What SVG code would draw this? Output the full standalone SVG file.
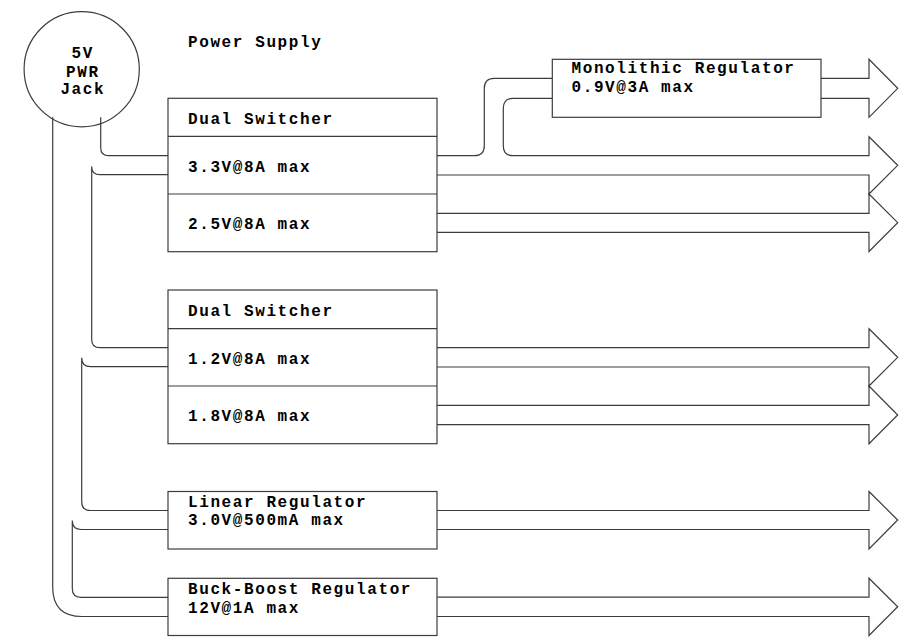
<svg xmlns="http://www.w3.org/2000/svg" width="915" height="644" viewBox="0 0 915 644">
<style>
  .ln { fill: none; stroke: #3c3c3c; stroke-width: 1.2; }
  .box { fill: #ffffff; stroke: #3c3c3c; stroke-width: 1.2; }
  .t { font-family: "Liberation Mono", "Courier New", monospace; font-weight: bold; font-size: 16px; letter-spacing: 1.6px; fill: #000; }
  .c { text-anchor: middle; }
</style>
<rect width="915" height="644" fill="#ffffff"/>
<text class="t" x="188" y="46.5">Power Supply</text>

<g id="connectors">
  <path class="ln" d="M100.7,117.3 V147.7 Q100.7,155.7 108.7,155.7 H168"/>
  <path class="ln" d="M91.7,166.4 Q91.7,174.7 100,174.7 H168 M91.7,166.4 V339.4 Q91.7,347.7 100,347.7 H168"/>
  <path class="ln" d="M81.7,357.7 Q81.7,366.7 90.7,366.7 H168 M81.7,357.7 V501.7 Q81.7,510.5 90.5,510.5 H168"/>
  <path class="ln" d="M72.3,520.5 Q72.3,529.5 81.3,529.5 H168 M72.3,520.5 V588.5 Q72.3,597.3 81.1,597.3 H168"/>
  <path class="ln" d="M52.7,117.3 V587 Q52.7,616.5 82,616.5 H168"/>
  <path class="ln" d="M437,155.7 H474.3 Q484.3,155.7 484.3,145.7 V88.3 Q484.3,78.3 494.3,78.3 H552.3"/>
  <path class="ln" d="M552.3,98.3 H513.3 Q503.3,98.3 503.3,108.3 V145.7 Q503.3,155.7 513.3,155.7 H869 V136.7 L897.7,165.3 L869,194 V175 H437"/>
  <path class="ln" d="M821,78.3 H869 V59.3 L897.7,88.3 L869,117.3 V98.3 H821"/>
  <path class="ln" d="M437,213.3 H869 V194 L897.7,222.7 L869,251.5 V232.3 H437"/>
  <path class="ln" d="M437,347.7 H869 V328.7 L897.7,357.3 L869,386 V367 H437"/>
  <path class="ln" d="M437,405.3 H869 V386 L897.7,415 L869,443.7 V424.7 H437"/>
  <path class="ln" d="M437,510.5 H869 V491.5 L897.7,520 L869,549 V529.5 H437"/>
  <path class="ln" d="M437,597.2 H869 V578.3 L897.7,606.7 L869,635.5 V616.5 H437"/>
</g>

<g id="jack">
  <circle cx="81.7" cy="69.2" r="57.6" fill="none" stroke="#3c3c3c" stroke-width="1.2"/>
  <text class="t c" x="82.8" y="58">5V</text>
  <text class="t c" x="82.8" y="76.5">PWR</text>
  <text class="t c" x="82.8" y="94">Jack</text>
</g>

<g id="dual-switcher-1">
  <rect class="box" x="168" y="98.3" width="269" height="153.4"/>
  <path class="ln" d="M168,136.3 H437 M168,194 H437"/>
  <text class="t" x="188" y="123.5">Dual Switcher</text>
  <text class="t" x="188" y="171.5">3.3V@8A max</text>
  <text class="t" x="188" y="229">2.5V@8A max</text>
</g>

<g id="monolithic-regulator">
  <rect class="box" x="552.3" y="59.3" width="268.7" height="58"/>
  <text class="t" x="571.5" y="73.3">Monolithic Regulator</text>
  <text class="t" x="571.5" y="92.3">0.9V@3A max</text>
</g>

<g id="dual-switcher-2">
  <rect class="box" x="168" y="290" width="269" height="153.7"/>
  <path class="ln" d="M168,328.7 H437 M168,386 H437"/>
  <text class="t" x="188" y="315.5">Dual Switcher</text>
  <text class="t" x="188" y="363.5">1.2V@8A max</text>
  <text class="t" x="188" y="421">1.8V@8A max</text>
</g>

<g id="linear-regulator">
  <rect class="box" x="168" y="491.5" width="269" height="57.5"/>
  <text class="t" x="188" y="506.7">Linear Regulator</text>
  <text class="t" x="188" y="525">3.0V@500mA max</text>
</g>

<g id="buck-boost-regulator">
  <rect class="box" x="168" y="578.3" width="269" height="57.2"/>
  <text class="t" x="188" y="594">Buck-Boost Regulator</text>
  <text class="t" x="188" y="613">12V@1A max</text>
</g>
</svg>
